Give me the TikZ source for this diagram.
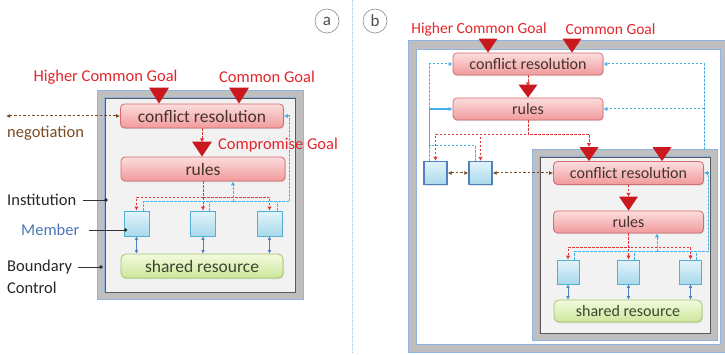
\documentclass[tikz,border=0pt]{standalone}
\usepackage{fontspec}
\setmainfont{Carlito}
\usetikzlibrary{arrows.meta,shadows}

\definecolor{bandgray}{HTML}{BFBFBF}
\definecolor{frameblue}{HTML}{8EB4E3}
\definecolor{innergray}{HTML}{F2F2F2}
\definecolor{innerline}{HTML}{5A5A5A}
\definecolor{pinktop}{HTML}{FCDDDD}
\definecolor{pinkbot}{HTML}{F19A9C}
\definecolor{pinkline}{HTML}{D46C6F}
\definecolor{boxtext}{HTML}{45342B}
\definecolor{membtop}{HTML}{E3F4FA}
\definecolor{membbot}{HTML}{A9D9EC}
\definecolor{membline}{HTML}{55B0D0}
\definecolor{membdark}{HTML}{4F81BD}
\definecolor{greentop}{HTML}{F3FADD}
\definecolor{greenbot}{HTML}{CDE79C}
\definecolor{greenline}{HTML}{A2C66A}
\definecolor{greentext}{HTML}{3C4630}
\definecolor{goalred}{HTML}{E2262B}
\definecolor{trired}{HTML}{C9181E}
\definecolor{redline}{HTML}{E2363A}
\definecolor{fbblue}{HTML}{49B0E6}
\definecolor{linkblue}{HTML}{4F7FC4}
\definecolor{negbrown}{HTML}{7A4A22}
\definecolor{labelblue}{HTML}{4A76B6}
\definecolor{divblue}{HTML}{9DC3E6}

\begin{document}
\begin{tikzpicture}[x=1pt,y=-1pt,
  band/.style={fill=bandgray,draw=frameblue,line width=1pt},
  innerpanel/.style={fill=innergray,draw=innerline,line width=0.7pt},
  whitepanel/.style={fill=white,draw=frameblue,line width=0.9pt},
  shade/.style={drop shadow={shadow xshift=0.8pt,shadow yshift=-1.2pt,opacity=0.25}},
  pinkbox/.style={rounded corners=4pt,draw=pinkline,line width=0.8pt,
    top color=pinktop,bottom color=pinkbot,text=boxtext,inner sep=0pt,shade},
  greenbox/.style={rounded corners=5pt,draw=greenline,line width=0.8pt,
    top color=greentop,bottom color=greenbot,text=greentext,inner sep=0pt,shade},
  membox/.style={draw=membline,line width=0.9pt,top color=membtop,
    bottom color=membbot,inner sep=0pt,shade},
  memdark/.style={membox,draw=membdark,line width=1.3pt},
  bigtext/.style={font=\fontsize{17.5}{20}\selectfont},
  smalltext/.style={font=\fontsize{16}{19}\selectfont},
  goaltxt/.style={text=goalred,inner sep=0pt},
  sidetxt/.style={inner sep=0pt,anchor=west,font=\fontsize{16.5}{19}\selectfont},
  reddash/.style={draw=redline,line width=1pt,dash pattern=on 2.5pt off 1.5pt},
  bluedash/.style={draw=fbblue,line width=1pt,dash pattern=on 2.5pt off 1.5pt},
  bluesolid/.style={draw=fbblue,line width=1.1pt},
  tip/.style={-{Latex[length=4pt,width=4.5pt]}},
  linkarrow/.style={draw=linkblue,line width=0.9pt,
    {Latex[length=3.5pt,width=3.8pt]}-{Latex[length=3.5pt,width=3.8pt]}},
  browndash/.style={draw=negbrown,line width=1pt,dash pattern=on 2.5pt off 2pt,
    {Latex[length=4pt,width=4pt]}-{Latex[length=4pt,width=4pt]}},
  pointer/.style={draw=black!80,line width=0.8pt},
  tag/.style={circle,draw=black!45,line width=0.6pt,minimum size=24pt,inner sep=0pt,
    text=black!70,font=\fontsize{17}{19}\selectfont},
  pics/goaltri/.style 2 args={code={
    \fill[trired] (-#1,-#2) -- (#1,-#2) -- (0,0) -- cycle;}}
]
\useasboundingbox (0,0) rectangle (725,355);
\clip (0,0) rectangle (725,355);

% ---------- panel tags and divider ----------
\node[tag] (tagA) at (327,21) {a};
\node[tag] (tagB) at (375,21) {b};
\draw[divblue,line width=0.9pt,dash pattern=on 1pt off 1pt] (352,0) -- (352,353);

% ================= panel a: a single institution =================
\draw[band] (97,91) rectangle (303,299);
\draw[frameblue,line width=0.6pt] (104.4,97.4) rectangle (295.6,292.6);
\draw[innerpanel] (105,98) rectangle (295,292);

\node[pinkbox,bigtext,minimum width=163pt,minimum height=24pt] (crA) at (202,116) {conflict resolution};
\node[pinkbox,bigtext,minimum width=164pt,minimum height=24pt] (rulesA) at (203,169) {rules};
\node[membox,minimum width=25pt,minimum height=25pt] (mA1) at (136.5,223.5) {};
\node[membox,minimum width=25pt,minimum height=25pt] (mA2) at (203,223.5) {};
\node[membox,minimum width=25pt,minimum height=25pt] (mA3) at (269.5,223.5) {};
\node[greenbox,bigtext,minimum width=162pt,minimum height=24pt] (srA) at (202,266) {shared resource};

% goals
\node[goaltxt,font=\fontsize{16.5}{19}\selectfont] (hgA) at (105.5,77) {Higher Common Goal};
\node[goaltxt,font=\fontsize{16.5}{19}\selectfont] (cgA) at (267,77) {Common Goal};
\node[goaltxt,font=\fontsize{16.5}{19}\selectfont,anchor=west] (pgA) at (218,145) {Compromise Goal};
\pic at (crA.north -| 159,0) {goaltri={10}{16}};
\pic at (crA.north -| 239,0) {goaltri={10}{16}};
\draw[reddash,tip] (crA.south) -- ++(0,14);
\pic at (rulesA.north -| 202,0) {goaltri={10}{15}};

% rules down to the members
\draw[reddash,tip] (rulesA.south) -- ++(0,16) -| (mA1.north);
\draw[reddash,tip] (rulesA.south) -- ++(0,16) -| (mA3.north);
\draw[reddash,tip] (rulesA.south) -- (mA2.north);

% feedback from the members
\coordinate (fbA) at (289,202);
\draw[bluedash,tip] ([xshift=6.5pt]mA1.north) |- (fbA) |- (crA.east);
\draw[bluedash] ([xshift=6.5pt]mA2.north) -- ++(0,-9);
\draw[bluedash] ([xshift=7.5pt]mA3.north) -- ++(0,-9);
\coordinate (upA) at (233,202);
\draw[bluedash,tip] (upA) -- (upA |- rulesA.south);

% members and the shared resource
\draw[linkarrow] (mA1.south) -- (mA1.south |- srA.north);
\draw[linkarrow] (mA2.south) -- (mA2.south |- srA.north);
\draw[linkarrow] (mA3.south) -- (mA3.south |- srA.north);

% negotiation
\coordinate (negL) at (6,116);
\draw[browndash] (negL) -- (crA.west);
\node[sidetxt,text=negbrown] (negT) at (7,133) {negotiation};

% side labels
\node[sidetxt,text=black!85] (instT) at (7,200) {Institution};
\coordinate (instP) at (106,200);
\draw[pointer] ([xshift=7pt]instT.east) -- (instP);
\fill[black!85] (instP) circle (1.8pt);

\node[sidetxt,text=labelblue] (memT) at (21,230) {Member};
\coordinate (memP) at ([shift={(2pt,-6.5pt)}]mA1.west);
\draw[pointer] ([xshift=9pt]memT.east) -- (memP);
\fill[black!85] (memP) circle (1.8pt);

\node[sidetxt,text=black!85] (bndT) at (7,267) {Boundary};
\node[sidetxt,text=black!85] (ctlT) at (7,288) {Control};
\coordinate (bndP) at (101,267);
\draw[pointer] ([xshift=6pt]bndT.east) -- (bndP);
\fill[black!85] (bndP) circle (1.8pt);

% ================= panel b: nested institutions =================
\draw[band] (408,41) rectangle (735,352);
\draw[whitepanel] (416,49) rectangle (720,344);

\draw[band] (532,150) rectangle (717,340);
\draw[frameblue,line width=0.6pt] (539.4,156.4) rectangle (710.6,333.6);
\draw[innerpanel] (540,157) rectangle (710,333);

% outer institution
\node[pinkbox,smalltext,minimum width=150pt,minimum height=22pt] (crB) at (528,64) {conflict resolution};
\node[pinkbox,smalltext,minimum width=150pt,minimum height=22pt] (rulesB) at (528,109) {rules};
\node[memdark,minimum width=23pt,minimum height=23pt] (mB1) at (435.5,173) {};
\node[memdark,minimum width=23pt,minimum height=23pt] (mB2) at (480.5,173) {};

\node[goaltxt,font=\fontsize{15.5}{18}\selectfont] (hgB) at (479,29) {Higher Common Goal};
\node[goaltxt,font=\fontsize{15.5}{18}\selectfont] (cgB) at (610.5,29) {Common Goal};
\pic at (crB.north -| 488,0) {goaltri={9.5}{14}};
\pic at (crB.north -| 572,0) {goaltri={9.5}{14}};
\draw[reddash,tip] (crB.south) -- ++(0,11);
\pic at (rulesB.north -| 528,0) {goaltri={9.5}{13}};

% nested institution
\node[pinkbox,smalltext,minimum width=150pt,minimum height=23pt] (crC) at (628.5,173) {conflict resolution};
\node[pinkbox,smalltext,minimum width=150pt,minimum height=22pt] (rulesC) at (628.5,222) {rules};
\node[membox,minimum width=22pt,minimum height=24pt] (mC1) at (568,272) {};
\node[membox,minimum width=22pt,minimum height=24pt] (mC2) at (628.5,272) {};
\node[membox,minimum width=22pt,minimum height=24pt] (mC3) at (690.5,272) {};
\node[greenbox,smalltext,minimum width=148pt,minimum height=22pt] (srC) at (628,311) {shared resource};

\coordinate (gC1) at (crC.north -| 589,0);
\coordinate (gC2) at (crC.north -| 662,0);
\pic at (gC1) {goaltri={9.5}{14}};
\pic at (gC2) {goaltri={9.5}{14}};
\draw[reddash,tip] (crC.south) -- ++(0,12);
\pic at (rulesC.north -| 628.5,0) {goaltri={9.5}{14}};

% outer rules down to its members and to the nested institution
\draw[reddash,tip] (rulesB.south) -- ++(0,14) -| (mB1.north);
\draw[reddash,tip] (rulesB.south) -- ++(0,14) -| (mB2.north);
\draw[reddash,tip] (rulesB.south) -- ++(0,14) -| ([yshift=14pt]gC1);

% feedback of the outer members
\coordinate (jB) at (429.5,146);
\draw[bluedash] ([xshift=-6pt]mB1.north) -- (jB);
\draw[bluedash] ([xshift=-5pt]mB2.north) |- (jB);
\draw[bluesolid,tip] (jB) |- (rulesB.west);
\draw[bluedash,tip] (jB |- rulesB.west) |- (crB.west);

% feedback of the nested institution
\coordinate (fbB) at (704,150);
\draw[bluedash,tip] (fbB) |- (crB.east);
\draw[bluedash,tip] (fbB |- rulesB.east) -- (rulesB.east);

% negotiation between peers
\draw[browndash] (mB1.east) -- (mB2.west);
\draw[browndash] (mB2.east) -- (crC.west);

% nested rules down to the members
\draw[reddash,tip] (rulesC.south) -- ++(0,14) -| (mC1.north);
\draw[reddash,tip] (rulesC.south) -- ++(0,14) -| (mC3.north);
\draw[reddash,tip] (rulesC.south) -- (mC2.north);

% nested feedback
\coordinate (fbC) at (708,252);
\draw[bluedash,tip] ([xshift=6pt]mC1.north) |- (fbC) |- (crC.east);
\draw[bluedash] ([xshift=6pt]mC2.north) -- ++(0,-8);
\draw[bluedash] ([xshift=6pt]mC3.north) -- ++(0,-8);
\coordinate (upC) at (657,252);
\draw[bluedash,tip] (upC) -- (upC |- rulesC.south);

\draw[linkarrow] (mC1.south) -- (mC1.south |- srC.north);
\draw[linkarrow] (mC2.south) -- (mC2.south |- srC.north);
\draw[linkarrow] (mC3.south) -- (mC3.south |- srC.north);
\end{tikzpicture}
\end{document}
